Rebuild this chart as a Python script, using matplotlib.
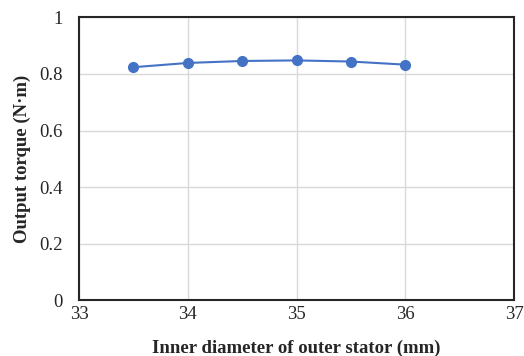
import numpy as np
import matplotlib.pyplot as plt

# data
diameter = [33.5, 34.0, 34.5, 35.0, 35.5, 36.0]
torque = [0.824, 0.839, 0.846, 0.848, 0.844, 0.833]
x_ticks = [33, 34, 35, 36, 37]
y_ticks = [0, 0.2, 0.4, 0.6, 0.8, 1]
y_tick_labels = ["0", "0.2", "0.4", "0.6", "0.8", "1"]

plt.rcParams['font.family'] = ['Liberation Serif', 'DejaVu Serif']

fig = plt.figure(figsize=(5.24, 3.56), dpi=100)
ax = fig.add_axes([0.151, 0.157, 0.830, 0.794])

ax.plot(diameter, torque, color='#4472C4', lw=1.5, marker='o', ms=7, zorder=3)

ax.set_xlim(33, 37)
ax.set_ylim(0, 1)
ax.set_xticks(x_ticks)
ax.set_yticks(y_ticks)
ax.set_yticklabels(y_tick_labels)
ax.tick_params(length=0, labelsize=13.5, colors='#262626')
ax.tick_params(axis='y', pad=12)
ax.tick_params(axis='x', pad=4)
ax.grid(True, color='#d9d9d9', lw=1)
ax.set_axisbelow(True)
for s in ax.spines.values():
    s.set_color('#262626')
    s.set_linewidth(1.5)

ax.set_xlabel('Inner diameter of outer stator (mm)', fontsize=13.5, fontweight='bold', color='#262626', labelpad=12)
ax.set_ylabel('Output torque (N·m)', fontsize=13.5, fontweight='bold', color='#262626', labelpad=6)

fig.savefig('out.png', dpi=100)
